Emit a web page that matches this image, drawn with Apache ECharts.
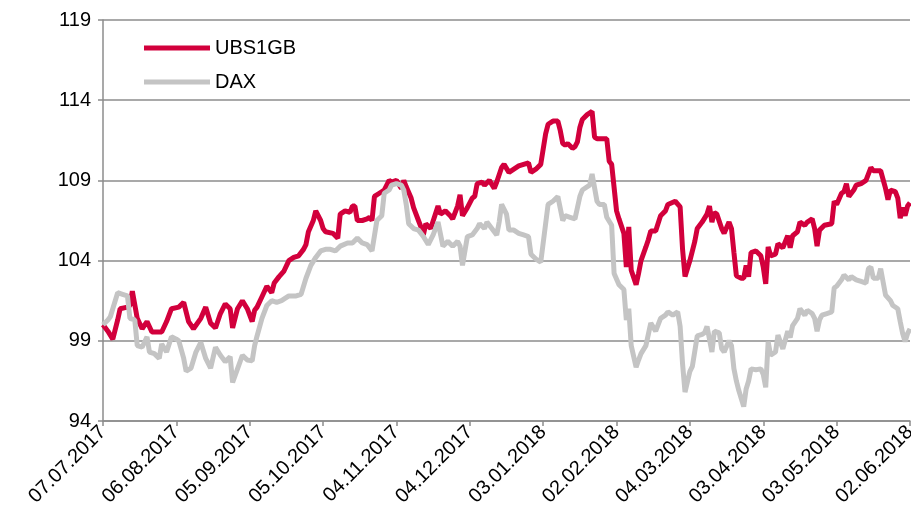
<!DOCTYPE html>
<html>
<head>
    <meta charset="utf-8">
    <title>UBS1GB vs DAX</title>
    <script src="https://cdn.jsdelivr.net/npm/echarts@6/dist/echarts.min.js"></script>
</head>
<body style="margin:0">
    <div id="main" style="width: 911px;height:524px;"></div>
    <script type="text/javascript">
// x = days since 07.07.2017
var tickLabels = ['07.07.2017', '06.08.2017', '05.09.2017', '05.10.2017', '04.11.2017', '04.12.2017',
    '03.01.2018', '02.02.2018', '04.03.2018', '03.04.2018', '03.05.2018', '02.06.2018'];

var ubsDays = [0, 2, 4, 6, 7, 10, 11, 12, 14, 16, 18, 20, 24, 26, 28, 31, 33, 35, 37, 40, 42, 44, 46, 48, 50,
    52, 53, 55, 57, 59, 61, 62, 63, 65, 67, 69, 70, 72, 74, 76, 78, 80, 82, 83, 84, 86, 87, 89, 90, 91, 94,
    96, 97, 99, 101, 102, 103, 104, 106, 108, 109, 110, 111, 113, 115, 117, 118, 120, 122, 123, 124, 126,
    127, 129, 130, 131, 132, 134, 137, 138, 140, 142, 143, 145, 146, 147, 149, 151, 152, 153, 155, 156, 158,
    160, 161, 163, 164, 166, 168, 170, 172, 174, 175, 177, 179, 181, 182, 184, 186, 187, 188, 189, 190, 192,
    193, 194, 195, 196, 198, 200, 201, 202, 204, 206, 207, 208, 210, 211, 213, 214, 215, 216, 218, 219, 220,
    222, 223, 224, 226, 228, 230, 231, 234, 236, 237, 238, 240, 242, 243, 245, 247, 248, 249, 250, 251, 253,
    254, 256, 257, 258, 259, 261, 262, 263, 264, 265, 267, 269, 270, 271, 272, 273, 275, 276, 278, 280, 281,
    282, 284, 285, 287, 288, 290, 291, 292, 293, 295, 298, 299, 300, 302, 303, 304, 305, 307, 308, 310, 312,
    314, 315, 317, 318, 320, 321, 322, 324, 325, 326, 327, 328, 329, 330];
var ubsValues = [100.0, 99.6, 99.1, 100.3, 101.0, 101.1, 101.2, 102.1, 100.4, 99.75, 100.2, 99.55, 99.55, 100.2,
    101.0, 101.1, 101.4, 100.2, 99.75, 100.4, 101.1, 100.1, 99.8, 100.7, 101.3, 101.0, 99.8, 101.0, 101.5,
    101.0, 100.2, 100.9, 101.1, 101.75, 102.4, 102.0, 102.6, 103.0, 103.35, 104.0, 104.2, 104.3, 104.7, 105.0,
    105.8, 106.5, 107.1, 106.5, 106.0, 105.8, 105.7, 105.4, 106.9, 107.1, 107.0, 107.4, 107.4, 106.5, 106.5,
    106.6, 106.7, 106.5, 108.0, 108.2, 108.4, 109.0, 108.9, 109.0, 108.5, 109.0, 108.6, 107.9, 107.3, 106.5,
    106.1, 105.6, 106.3, 106.0, 107.4, 106.9, 107.1, 106.8, 106.6, 107.4, 108.1, 106.8, 107.3, 107.9, 108.0,
    108.8, 108.9, 108.7, 109.0, 108.5, 108.9, 109.8, 110.0, 109.5, 109.7, 109.9, 110.0, 110.1, 109.5, 109.7,
    110.0, 111.9, 112.5, 112.7, 112.7, 112.1, 111.3, 111.2, 111.3, 111.0, 111.1, 111.4, 112.3, 112.8, 113.1,
    113.3, 111.7, 111.6, 111.6, 111.6, 110.2, 110.0, 107.1, 106.6, 105.7, 103.6, 106.1, 103.4, 102.5, 103.2,
    104.0, 104.85, 105.3, 105.85, 105.85, 106.8, 107.1, 107.5, 107.7, 107.35, 104.7, 103.0, 104.0, 105.2,
    106.0, 106.4, 106.9, 107.4, 106.4, 107.0, 106.9, 106.0, 105.7, 106.4, 106.0, 104.5, 103.05, 102.9, 102.9,
    103.7, 103.0, 104.5, 104.6, 104.3, 103.6, 102.55, 104.85, 104.3, 104.4, 105.05, 104.8, 105.55, 104.8,
    105.55, 105.8, 106.4, 106.2, 106.4, 106.6, 106.0, 104.9, 105.9, 106.2, 106.3, 107.7, 107.5, 108.2, 108.3,
    108.8, 108.0, 108.4, 108.7, 108.8, 109.0, 109.8, 109.6, 109.6, 109.6, 108.5, 107.8, 108.4, 108.3, 107.9,
    106.65, 107.3, 106.8, 107.4, 107.6];

var daxDays = [0, 2, 3, 5, 6, 8, 10, 11, 13, 14, 16, 18, 19, 21, 23, 24, 26, 28, 30, 31, 33, 34, 36, 38, 40,
    42, 44, 46, 48, 50, 52, 53, 55, 57, 59, 61, 62, 63, 65, 67, 69, 71, 73, 76, 79, 81, 83, 85, 87, 89, 91,
    93, 95, 97, 100, 102, 104, 106, 108, 109, 110, 112, 114, 115, 117, 118, 120, 122, 123, 124, 125, 127,
    129, 131, 133, 135, 137, 139, 141, 143, 145, 146, 147, 149, 151, 153, 154, 156, 157, 159, 161, 162, 163,
    165, 166, 168, 170, 172, 174, 175, 177, 179, 181, 182, 184, 186, 188, 189, 191, 193, 194, 195, 196, 199,
    200, 202, 203, 205, 206, 208, 209, 211, 213, 214, 215, 216, 218, 219, 220, 222, 223, 224, 226, 228, 230,
    231, 233, 235, 236, 237, 238, 240, 241, 243, 245, 246, 247, 249, 250, 252, 253, 254, 256, 257, 258, 259,
    260, 261, 262, 263, 264, 265, 267, 269, 270, 271, 272, 273, 275, 276, 278, 280, 281, 282, 284, 285, 287,
    288, 290, 291, 292, 293, 294, 296, 298, 299, 300, 302, 303, 305, 306, 308, 310, 312, 313, 314, 315, 317,
    318, 320, 322, 323, 325, 326, 327, 328, 329, 330];
var daxValues = [100.0, 100.3, 100.5, 101.5, 102.0, 101.9, 101.8, 100.4, 100.3, 98.7, 98.6, 99.25, 98.3, 98.2,
    97.9, 98.8, 98.3, 99.25, 99.1, 99.0, 97.9, 97.1, 97.3, 98.3, 98.9, 97.9, 97.3, 98.6, 98.1, 97.7, 98.0,
    96.4, 97.25, 98.1, 97.8, 97.75, 98.7, 99.3, 100.4, 101.2, 101.5, 101.4, 101.5, 101.8, 101.8, 101.9, 102.9,
    103.7, 104.2, 104.6, 104.7, 104.7, 104.6, 104.9, 105.1, 105.1, 105.4, 105.1, 105.0, 104.8, 104.6, 106.5,
    106.8, 108.2, 108.4, 108.7, 108.8, 108.7, 108.4, 107.5, 106.3, 106.0, 105.9, 105.5, 105.0, 105.6, 106.4,
    104.9, 105.2, 104.9, 105.2, 104.9, 103.7, 105.5, 105.6, 106.0, 106.3, 106.0, 106.4, 106.0, 105.6, 106.4,
    107.5, 106.9, 105.9, 105.9, 105.7, 105.6, 105.5, 104.4, 104.1, 103.9, 106.3, 107.5, 107.7, 108.0, 106.5,
    106.8, 106.7, 106.6, 107.3, 108.0, 108.4, 108.7, 109.4, 107.7, 107.5, 107.5, 106.7, 106.2, 103.2, 102.5,
    102.2, 100.3, 101.0, 98.7, 97.35, 97.8, 98.2, 98.7, 99.4, 100.1, 99.6, 100.4, 100.6, 100.8, 100.6, 100.8,
    99.9, 97.55, 95.8, 97.1, 97.4, 99.3, 99.4, 99.5, 99.9, 98.3, 99.6, 99.5, 98.5, 98.3, 99.0, 98.7, 97.25,
    96.5, 95.9, 95.4, 94.9, 96.0, 96.5, 97.25, 97.2, 97.25, 96.9, 96.1, 98.95, 98.1, 98.3, 99.35, 98.5, 99.6,
    99.2, 99.95, 100.4, 101.0, 100.6, 100.9, 100.7, 100.4, 99.6, 100.3, 100.6, 100.7, 100.8, 102.3, 102.4,
    102.8, 103.1, 102.8, 103.0, 102.8, 102.7, 102.6, 103.5, 103.6, 102.9, 102.9, 103.5, 101.85, 101.5, 101.2,
    101.0, 100.2, 99.45, 98.95, 99.45, 99.75];

function pairs(days, values) {
    return days.map(function (d, i) { return [d, values[i]]; });
}

var myChart = echarts.init(document.getElementById('main'));

var font = 'Liberation Sans, Arial, sans-serif';
var axisGray = '#8c8c8c';

var option = {
    animation: false,
    backgroundColor: '#fff',
    grid: { left: 103, right: 1, top: 20, bottom: 103, outerBoundsMode: 'none' },
    legend: {
        orient: 'vertical',
        left: 139,
        top: 33,
        icon: 'rect',
        itemWidth: 66,
        itemHeight: 5,
        itemGap: 14,
        textStyle: { fontFamily: font, fontSize: 20, color: '#000' },
        data: ['UBS1GB', 'DAX']
    },
    xAxis: {
        type: 'value',
        min: 0,
        max: 330,
        interval: 30,
        axisLine: { lineStyle: { color: axisGray, width: 1.5 } },
        axisTick: { show: true, length: 5, lineStyle: { color: axisGray, width: 1.5 } },
        splitLine: { show: false },
        axisLabel: {
            rotate: 45,
            margin: 8,
            fontFamily: font,
            fontSize: 20,
            color: '#000',
            hideOverlap: false,
            formatter: function (v) { return tickLabels[Math.round(v / 30)]; }
        }
    },
    yAxis: {
        type: 'value',
        min: 94,
        max: 119,
        interval: 5,
        axisLine: { show: true, lineStyle: { color: axisGray, width: 1.5 } },
        axisTick: { show: true, length: 5, lineStyle: { color: axisGray, width: 1.5 } },
        splitLine: { lineStyle: { color: axisGray, width: 1.5 } },
        axisLabel: { margin: 12, fontFamily: font, fontSize: 20, color: '#000' }
    },
    series: [
        {
            name: 'UBS1GB',
            type: 'line',
            symbol: 'none',
            color: '#d2003c',
            lineStyle: { width: 5, color: '#d2003c' },
            data: pairs(ubsDays, ubsValues)
        },
        {
            name: 'DAX',
            type: 'line',
            symbol: 'none',
            color: '#c4c4c4',
            lineStyle: { width: 5, color: '#c4c4c4' },
            data: pairs(daxDays, daxValues)
        }
    ]
};

myChart.setOption(option);
    </script>
</body>
</html>
